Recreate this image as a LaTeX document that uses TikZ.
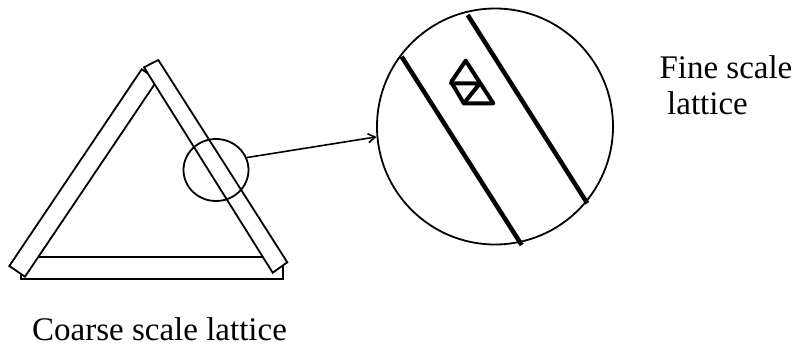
\documentclass[tikz,border=0pt]{standalone}
\usepackage{fontspec}
\setmainfont{Liberation Serif}
\usetikzlibrary{shapes.geometric,arrows.meta}
\begin{document}
\begin{tikzpicture}[x=1pt,y=-1pt,
  bar/.style={draw=black,fill=white,line width=1.8pt,line join=miter},
  lens/.style={draw=black,line width=1.8pt,inner sep=0pt},
  strut/.style={line width=4.5pt},
  cell/.style={line width=4pt,line join=round,line cap=round},
  label/.style={anchor=base west,inner sep=0pt,font=\fontsize{33}{36}\selectfont}]
\useasboundingbox (0,0) rectangle (793,350);

% coarse triangle made of three bars
\draw[bar] (20.7,256.7) rectangle (283.3,278.7);
\draw[bar] (141.7,69.3) -- (9.3,266) -- (25,276.7) -- (157.5,79.9) -- cycle;
\draw[bar] (144,67.3) -- (158.3,60) -- (287.3,262.3) -- (272.7,272.7) -- cycle;

% magnifier: small region and enlarged view
\node[lens,ellipse,minimum width=65pt,minimum height=62pt] (small) at (216,170) {};
\node[lens,circle,minimum size=236pt] (big) at (495,126.5) {};
\draw[line width=1.6pt,-{Straight Barb[length=7pt,width=9pt]}] (small.22) -- (big.185);

% bar edges seen at fine scale
\draw[strut] (401.7,56.7) -- (521.7,245);
\draw[strut] (467.7,15) -- (587.3,203.3);

% fine lattice cell
\draw[cell] (465.7,60.7) -- (451.2,82) -- (463.8,103.3) -- (493.3,103.3) -- cycle;
\draw[cell] (451.2,83.3) -- (480,83.3) -- (463.8,103.3);

% labels
\node[label] (fine1) at (659.3,79) {Fine scale};
\node[label] (fine2) at (667,115) {lattice};
\node[label] (coarse) at (32,340) {Coarse scale lattice};
\end{tikzpicture}
\end{document}
